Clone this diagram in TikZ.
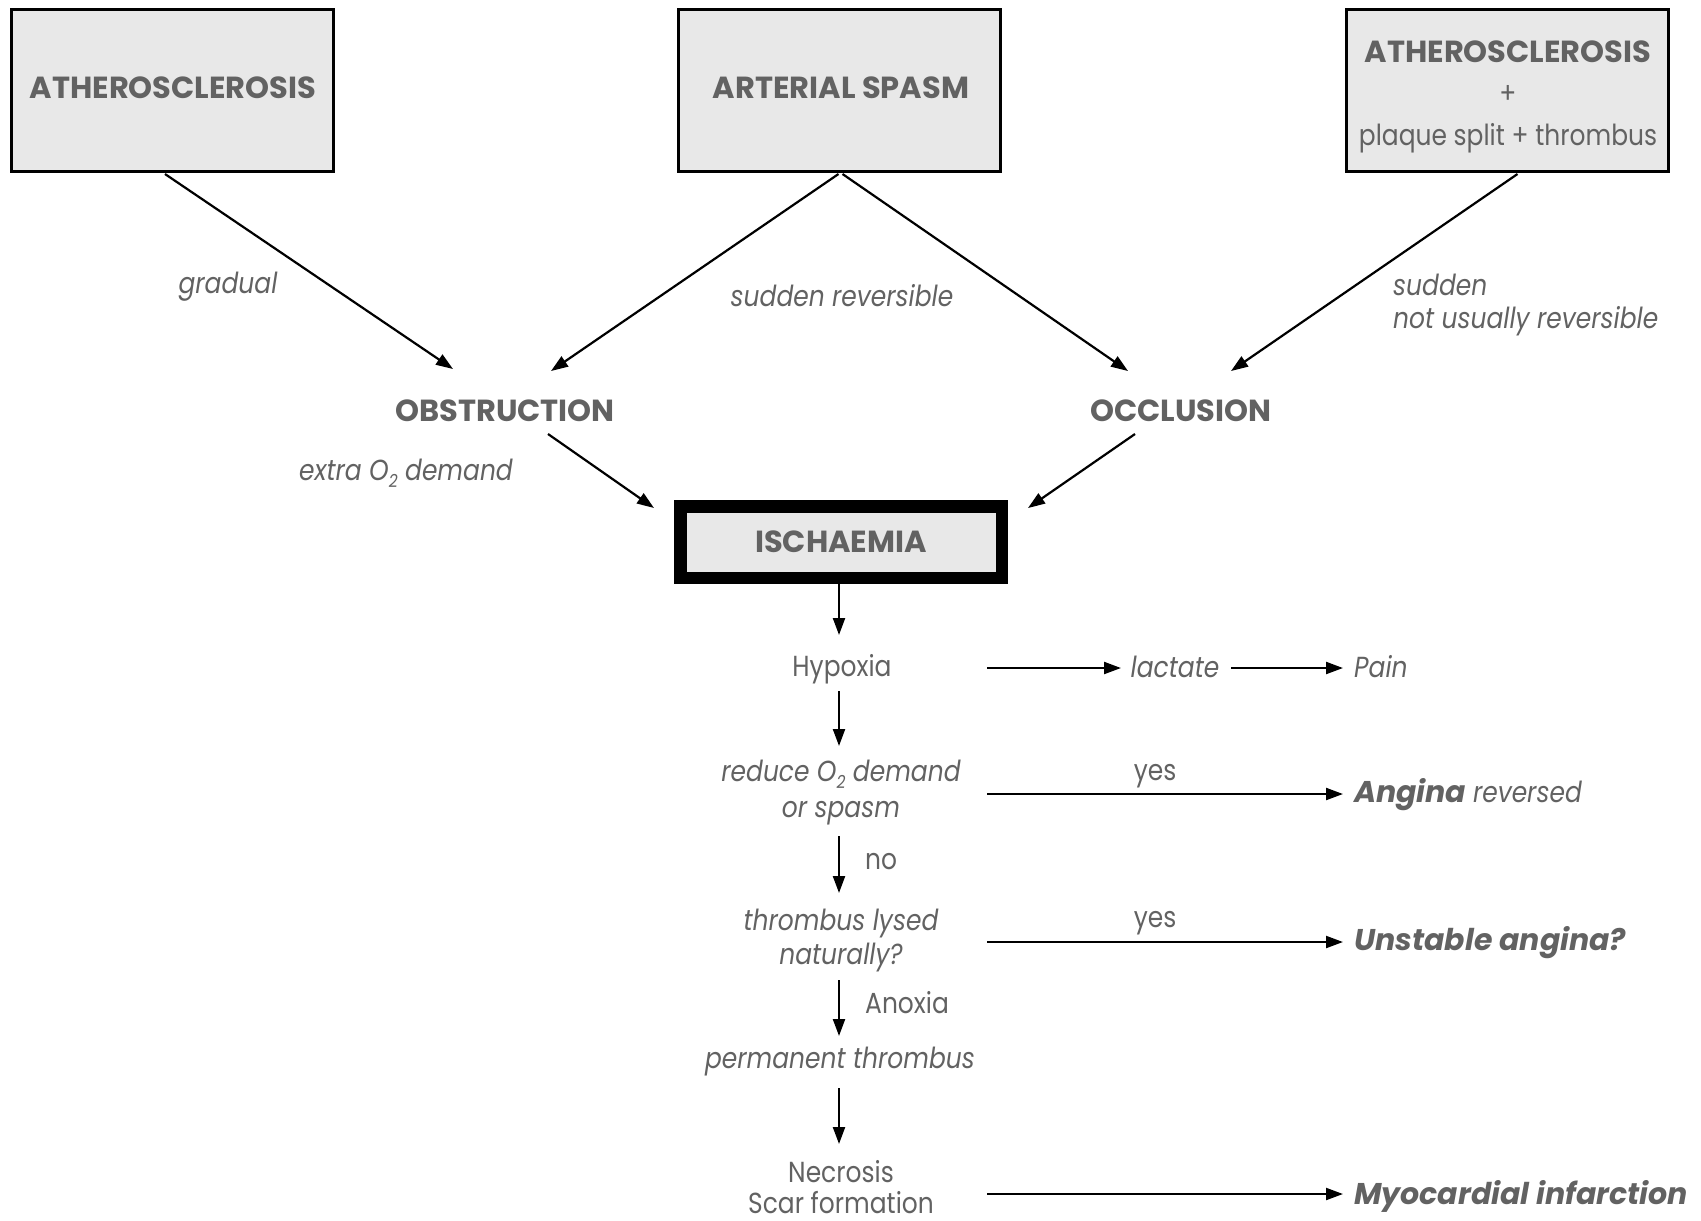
\documentclass[tikz,border=0pt]{standalone}
\usepackage{fontspec}
\setmainfont{Poppins}[FakeStretch=0.86]
\newfontfamily\ttlfont{Poppins}
\usetikzlibrary{arrows.meta}
\definecolor{txt}{HTML}{626262}
\definecolor{boxfill}{HTML}{E8E8E8}
\begin{document}
\begin{tikzpicture}[x=1pt,y=-1pt,
  every node/.style={inner sep=0pt, text=txt},
  tbox/.style={draw=black, line width=3pt, fill=boxfill, minimum width=322pt, minimum height=162pt},
  arr/.style={draw=black, line width=2.2pt, -{Triangle[length=17pt,width=12pt]}},
  lab/.style={font=\fontsize{29}{40}\selectfont\itshape},
  body/.style={font=\fontsize{29}{40}\selectfont},
  ttl/.style={font=\fontsize{30.5}{40}\selectfont\ttlfont\bfseries},
  bit/.style={font=\fontsize{30}{40}\selectfont\ttlfont\bfseries\itshape}]
\useasboundingbox (0,0) rectangle (1701,1221);
\fill[white] (0,0) rectangle (1701,1221);
% top boxes
\node[tbox] (b1) at (172,90) {};
\node[tbox] (b2) at (839.5,90) {};
\node[tbox] (b3) at (1507.5,90) {};
\node[ttl, anchor=base] (t1) at (173,98) {ATHEROSCLEROSIS};
\node[ttl, anchor=base] (t2) at (841,98) {ARTERIAL SPASM};
\node[ttl, anchor=base] (t3a) at (1508,62) {ATHEROSCLEROSIS};
\node[body, anchor=base] (t3b) at (1508,103.5) {+};
\node[body, anchor=base] (t3c) at (1508,145) {plaque split + thrombus};
% labels
\node[lab, anchor=base] (grad) at (228,293) {gradual};
\node[lab, anchor=base] (sudrev) at (842,306) {sudden reversible};
\node[lab, anchor=base west] (sud) at (1393,295) {sudden};
\node[lab, anchor=base west] (notus) at (1393,328) {not usually reversible};
\node[ttl, anchor=base] (obs) at (505,421) {OBSTRUCTION};
\node[ttl, anchor=base] (occ) at (1181,421) {OCCLUSION};
\node[lab, anchor=base] (extra) at (406,480) {extra O\raisebox{-0.25em}{\fontsize{18}{20}\selectfont 2} demand};
% ischaemia
\node[draw=black, line width=12.5pt, fill=boxfill, minimum width=321.5pt, minimum height=71.5pt] (isch) at (841,542) {};
\node[ttl, anchor=base] (ischt) at (841,552) {ISCHAEMIA};
% flow
\node[body, anchor=base] (hyp) at (842,676) {Hypoxia};
\node[lab, anchor=base] (lac) at (1175,677) {lactate};
\node[lab, anchor=base west] (pain) at (1354,677) {Pain};
\node[lab, anchor=base] (red1) at (841,781) {reduce O\raisebox{-0.25em}{\fontsize{18}{20}\selectfont 2} demand};
\node[lab, anchor=base] (red2) at (841,817) {or spasm};
\node[body, anchor=base] (yes1) at (1155,780) {yes};
\node[anchor=base west, font=\fontsize{29}{40}\selectfont] (ang) at (1354,802) {{\fontsize{30}{40}\selectfont\ttlfont\bfseries\itshape Angina} \itshape reversed};
\node[body, anchor=base west] (no) at (865,869) {no};
\node[lab, anchor=base] (thr1) at (841,930) {thrombus lysed};
\node[lab, anchor=base] (thr2) at (841,964) {naturally?};
\node[body, anchor=base] (yes2) at (1155,927) {yes};
\node[bit, anchor=base west] (unst) at (1354,950) {Unstable angina?};
\node[body, anchor=base west] (anox) at (865,1013) {Anoxia};
\node[lab, anchor=base] (perm) at (840,1068) {permanent thrombus};
\node[body, anchor=base] (necr) at (841,1182) {Necrosis};
\node[body, anchor=base] (scar) at (841,1213) {Scar formation};
\node[bit, anchor=base west] (mi) at (1354,1204) {Myocardial infarction};
% arrows
\coordinate (e1) at (453,369);
\coordinate (e2) at (551,371);
\coordinate (e3) at (1128,371);
\coordinate (e4) at (1231,371);
\draw[arr] ([xshift=-7pt,yshift=-1.5pt]b1.south) -- (e1);
\draw[arr] ([xshift=-1pt,yshift=-1.5pt]b2.south) -- (e2);
\draw[arr] ([xshift=3pt,yshift=-1.5pt]b2.south) -- (e3);
\draw[arr] ([xshift=10pt,yshift=-1.5pt]b3.south) -- (e4);
\coordinate (o1) at (548,434);
\coordinate (i1) at (654,508);
\coordinate (o2) at (1135,434);
\coordinate (i2) at (1028,508);
\draw[arr] (o1) -- (i1);
\draw[arr] (o2) -- (i2);
\coordinate (h0) at (839,635);
\draw[arr] ([xshift=-2pt]isch.south) -- (h0);
\coordinate (h1) at (987,668);
\coordinate (l1) at (1121,668);
\coordinate (l2) at (1231,668);
\coordinate (p1) at (1343,668);
\draw[arr] (h1) -- (l1);
\draw[arr] (l2) -- (p1);
\coordinate (v1a) at (839,691);
\coordinate (v1b) at (839,746);
\draw[arr] (v1a) -- (v1b);
\coordinate (y1a) at (987,794);
\coordinate (y1b) at (1343,794);
\draw[arr] (y1a) -- (y1b);
\coordinate (v2a) at (839,836);
\coordinate (v2b) at (839,893);
\draw[arr] (v2a) -- (v2b);
\coordinate (y2a) at (987,942);
\coordinate (y2b) at (1343,942);
\draw[arr] (y2a) -- (y2b);
\coordinate (v3a) at (839,980);
\coordinate (v3b) at (839,1036);
\draw[arr] (v3a) -- (v3b);
\coordinate (v4a) at (839,1088);
\coordinate (v4b) at (839,1144);
\draw[arr] (v4a) -- (v4b);
\coordinate (m1) at (987,1194);
\coordinate (m2) at (1343,1194);
\draw[arr] (m1) -- (m2);
\end{tikzpicture}
\end{document}
